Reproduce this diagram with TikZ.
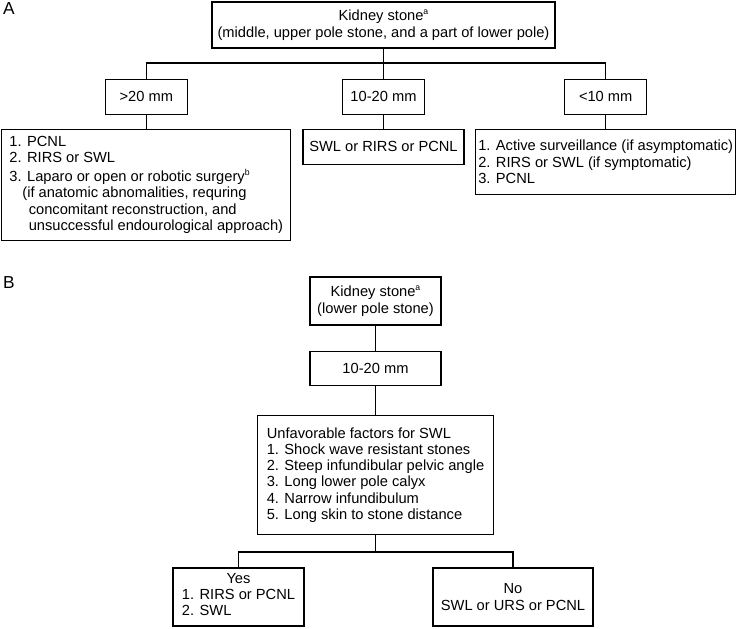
\documentclass[tikz,border=0pt]{standalone}
\usepackage{fontspec}
\setmainfont{Liberation Sans}
\usepackage{tikz}
\usetikzlibrary{positioning}

% one pixel of the layout grid
\newdimen\pxu \pxu=0.75pt
\newcommand{\fnmark}[1]{\raisebox{0.8ex}{\fontsize{6.5pt}{7pt}\selectfont #1}}

\begin{document}
\begin{tikzpicture}[
      x=0.75pt, y=-0.75pt,
      font=\fontsize{11pt}{12.2pt}\selectfont,
      box/.style={draw, rectangle, line width=0.9pt, inner sep=0pt, align=center},
      listbox/.style={box, align=left},
      link/.style={line width=0.9pt},
      panel/.style={font=\fontsize{13pt}{15pt}\selectfont},
    ]
    \useasboundingbox (0,0) rectangle (737,628);

    % panel A
    \node[panel] (labA) at (9,9) {A};
    \node[box, minimum width=343\pxu, minimum height=46\pxu] (rootA) at (383.5,25)
      {Kidney stone\fnmark{a}\\(middle, upper pole stone, and a part of lower pole)};
    \node[box, minimum width=82\pxu, minimum height=35\pxu, below=30\pxu of rootA] (midA) {10-20 mm};
    \node[box, minimum width=82\pxu, minimum height=35\pxu, left=154\pxu of midA] (bigA) {>20 mm};
    \node[box, minimum width=82\pxu, minimum height=35\pxu, right=139\pxu of midA] (smallA) {<10 mm};
    \node[listbox, minimum width=289\pxu, minimum height=111\pxu, below=14\pxu of bigA] (bigtxA)
      {1. PCNL\\2. RIRS or SWL\\[2pt]3. Laparo or open or robotic surgery\fnmark{b}\\
       \hspace*{9.7pt}(if anatomic abnomalities, requring\\
       \hspace*{14.5pt}concomitant reconstruction, and\\
       \hspace*{14.5pt}unsuccessful endourological approach)};
    \node[box, minimum width=161\pxu, minimum height=35\pxu, below=14\pxu of midA] (midtxA) {SWL or RIRS or PCNL};
    \node[listbox, minimum width=260\pxu, minimum height=65\pxu, below=14\pxu of smallA] (smalltxA)
      {1. Active surveillance (if asymptomatic)\\2. RIRS or SWL (if symptomatic)\\3. PCNL};
    \coordinate (splitA) at (383.5,63);

    \draw[link] (rootA) -- (midA);
    \draw[link] (bigA.north) |- (splitA) -| (smallA.north);
    \draw[link] (bigA) -- (bigtxA);
    \draw[link] (midA) -- (midtxA);
    \draw[link] (smallA) -- (smalltxA);

    % panel B
    \node[panel] (labB) at (9,283) {B};
    \node[box, minimum width=131\pxu, minimum height=48\pxu] (rootB) at (375.5,301)
      {Kidney stone\fnmark{a}\\(lower pole stone)};
    \node[box, minimum width=131\pxu, minimum height=34\pxu, below=25\pxu of rootB] (sizeB) {10-20 mm};
    \node[listbox, minimum width=236\pxu, minimum height=119\pxu, below=29\pxu of sizeB] (factB)
      {Unfavorable factors for SWL\\1. Shock wave resistant stones\\2. Steep infundibular pelvic angle\\
       3. Long lower pole calyx\\4. Narrow infundibulum\\5. Long skin to stone distance};
    \node[box, minimum width=131\pxu, minimum height=58\pxu] (yesB) at (238.5,597)
      {Yes\\\begin{tabular}[t]{@{}l@{}}1. RIRS or PCNL\\2. SWL\end{tabular}};
    \node[box, minimum width=160\pxu, minimum height=58\pxu] (noB) at (513,597)
      {No\\SWL or URS or PCNL};
    \coordinate (splitB) at (375.5,552);

    \draw[link] (rootB) -- (sizeB);
    \draw[link] (sizeB) -- (factB);
    \draw[link] (factB.south) -- (splitB);
    \draw[link] (yesB.north) |- (splitB) -| (noB.north);
  \end{tikzpicture}
\end{document}
